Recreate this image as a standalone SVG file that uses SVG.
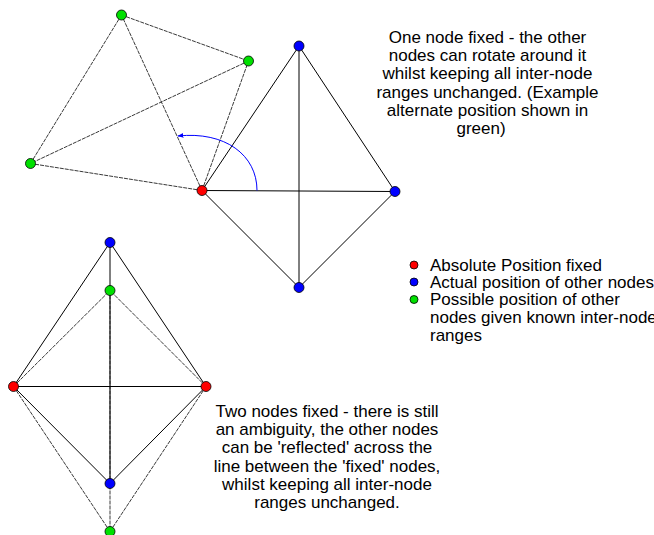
<svg xmlns="http://www.w3.org/2000/svg" width="654" height="535" viewBox="0 0 654 535">
<style>
text{font-family:"Liberation Sans",Arial,sans-serif;font-size:17px;fill:#000}
.c{text-anchor:middle}
.e{stroke:#000;stroke-width:1;fill:none}
.g{stroke:#222;stroke-width:0.9;stroke-dasharray:4,1;fill:none}
.n{stroke:#000;stroke-width:0.8}
.red{fill:#ff0000}.blue{fill:#0000ff}.green{fill:#00e000}
</style>
<defs>
<marker id="ah" viewBox="0 0 10 10" refX="9" refY="5" markerWidth="6" markerHeight="6" orient="auto" markerUnits="userSpaceOnUse">
<path d="M0,1 L10,5 L0,9 Z" fill="#0000ff"/>
</marker>
</defs>
<g id="connectors">
<line class="e" x1="202" y1="190.5" x2="299" y2="46"/>
<line class="e" x1="202" y1="190.5" x2="395" y2="191.5"/>
<line class="e" x1="202" y1="190.5" x2="299" y2="287.5"/>
<line class="e" x1="299" y1="46" x2="395" y2="191.5"/>
<line class="e" x1="395" y1="191.5" x2="299" y2="287.5"/>
<line class="e" x1="299" y1="46" x2="299" y2="287.5"/>
<line class="g" x1="202" y1="190.5" x2="121.5" y2="15"/>
<line class="g" x1="202" y1="190.5" x2="248.5" y2="61"/>
<line class="g" x1="202" y1="190.5" x2="30.5" y2="163.5"/>
<line class="g" x1="121.5" y1="15" x2="248.5" y2="61"/>
<line class="g" x1="121.5" y1="15" x2="30.5" y2="163.5"/>
<line class="g" x1="248.5" y1="61" x2="30.5" y2="163.5"/>
<path d="M257,190.5 C257,155 225,131 178,136" stroke="#0000ff" stroke-width="1" fill="none" marker-end="url(#ah)"/>
<line class="g" x1="13.5" y1="386.5" x2="110" y2="290.5"/>
<line class="g" x1="206" y1="386.5" x2="110" y2="290.5"/>
<line class="g" x1="13.5" y1="386.5" x2="110" y2="531.5"/>
<line class="g" x1="206" y1="386.5" x2="110" y2="531.5"/>
<line class="g" x1="110" y1="290.5" x2="110" y2="531.5"/>
<line class="e" x1="13.5" y1="386.5" x2="206" y2="386.5"/>
<line class="e" x1="110" y1="242.5" x2="110" y2="483.5"/>
<line class="e" x1="13.5" y1="386.5" x2="110" y2="242.5"/>
<line class="e" x1="206" y1="386.5" x2="110" y2="242.5"/>
<line class="e" x1="13.5" y1="386.5" x2="110" y2="483.5"/>
<line class="e" x1="206" y1="386.5" x2="110" y2="483.5"/>
</g>
<g id="node-fixed-top"><circle class="n red" cx="202" cy="190.5" r="5"/></g>
<g id="node-actual-top"><circle class="n blue" cx="299" cy="46" r="5"/></g>
<g id="node-actual-right"><circle class="n blue" cx="395" cy="191.5" r="5"/></g>
<g id="node-actual-bottom"><circle class="n blue" cx="299" cy="287.5" r="5"/></g>
<g id="node-alt-top"><circle class="n green" cx="121.5" cy="15" r="5"/></g>
<g id="node-alt-right"><circle class="n green" cx="248.5" cy="61" r="5"/></g>
<g id="node-alt-left"><circle class="n green" cx="30.5" cy="163.5" r="5"/></g>
<g id="node2-fixed-left"><circle class="n red" cx="13.5" cy="386.5" r="5"/></g>
<g id="node2-fixed-right"><circle class="n red" cx="206" cy="386.5" r="5"/></g>
<g id="node2-actual-top"><circle class="n blue" cx="110" cy="242.5" r="5"/></g>
<g id="node2-actual-bottom"><circle class="n blue" cx="110" cy="483.5" r="5"/></g>
<g id="node2-alt-top"><circle class="n green" cx="110" cy="290.5" r="5"/></g>
<g id="node2-alt-bottom"><circle class="n green" cx="110" cy="531.5" r="5"/></g>
<g id="caption-top">
<text class="c" x="487.5" y="42.7">One node fixed - the other</text>
<text class="c" x="487.5" y="61">nodes can rotate around it</text>
<text class="c" x="487.5" y="79.3">whilst keeping all inter-node</text>
<text class="c" x="487.5" y="97.6">ranges unchanged. (Example</text>
<text class="c" x="487.5" y="115.9">alternate position shown in</text>
<text class="c" x="481" y="134.2">green)</text>
</g>
<g id="legend">
<circle class="n red" cx="414" cy="265" r="4"/>
<text x="430" y="270.7">Absolute Position fixed</text>
<circle class="n blue" cx="414" cy="282" r="4"/>
<text x="430" y="287.7">Actual position of other nodes</text>
<circle class="n green" cx="414" cy="299.5" r="4"/>
<text x="430" y="305">Possible position of other</text>
<text x="430" y="322.7">nodes given known inter-node</text>
<text x="430" y="340.5">ranges</text>
</g>
<g id="caption-bottom">
<text class="c" x="327" y="416.7">Two nodes fixed - there is still</text>
<text class="c" x="327" y="435">an ambiguity, the other nodes</text>
<text class="c" x="327" y="453.3">can be 'reflected' across the</text>
<text class="c" x="327" y="471.7">line between the 'fixed' nodes,</text>
<text class="c" x="327" y="490">whilst keeping all inter-node</text>
<text class="c" x="327" y="508.3">ranges unchanged.</text>
</g>
</svg>
